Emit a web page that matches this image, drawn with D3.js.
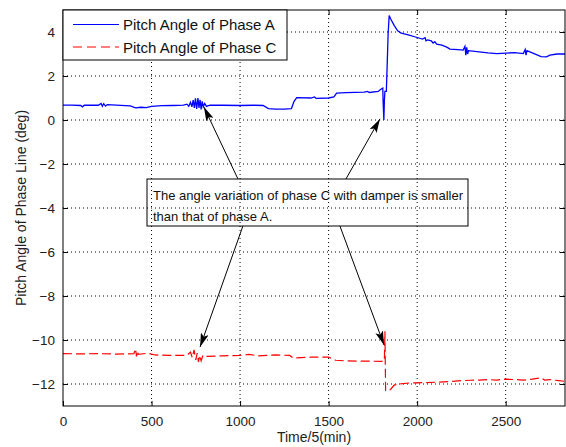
<!DOCTYPE html>
<html lang="en">
<head>
  <meta charset="UTF-8">
  <title>Pitch Angle of Phase Line</title>
  <script src="https://d3js.org/d3.v7.min.js"></script>
  <style>
    body { margin: 0; background: #fff; font-family: "Liberation Sans", Arial, sans-serif; }
    .grid line { stroke: #000; stroke-dasharray: 1,3; stroke-width: 1; }
  </style>
</head>
<body>
  <div id="chart"></div>

  <script>
    // ---- data ----
    const xTicks = [0, 500, 1000, 1500, 2000, 2500];
    const yTicks = [-12, -10, -8, -6, -4, -2, 0, 2, 4];

    const timeA = [0, 50, 100, 110, 120, 200, 215, 222, 230, 240, 250, 300, 380, 410, 440, 470, 500, 560, 620, 680,
      700, 710, 720, 728, 735, 742, 748, 755, 762, 768, 774, 780, 786, 792, 800, 810, 830, 900, 1000, 1080,
      1130, 1160, 1200, 1250, 1290, 1305, 1320, 1400, 1420, 1430, 1500, 1530, 1545, 1600, 1650, 1700, 1720, 1730, 1780, 1795,
      1806, 1808, 1812, 1815, 1818, 1826, 1830, 1836, 1842, 1850, 1870, 1890, 1910, 1950, 2000, 2030, 2045, 2050, 2060, 2080,
      2090, 2100, 2110, 2140, 2170, 2185, 2230, 2260, 2270, 2275, 2280, 2285, 2290, 2350, 2400, 2450, 2500, 2550, 2600, 2610,
      2615, 2620, 2650, 2700, 2730, 2750, 2790, 2835];
    const angleA = [0.68, 0.68, 0.66, 0.6, 0.67, 0.67, 0.75, 0.62, 0.74, 0.63, 0.7, 0.68, 0.64, 0.55, 0.58, 0.56, 0.62, 0.65, 0.66, 0.68,
      0.72, 0.62, 0.8, 0.6, 0.9, 0.55, 0.98, 0.5, 1.0, 0.55, 0.92, 0.48, 0.85, 0.6, 0.75, 0.62, 0.68, 0.67, 0.66, 0.67,
      0.66, 0.52, 0.49, 0.49, 0.52, 0.85, 1.02, 1.0, 1.05, 0.98, 1.0, 1.05, 1.22, 1.24, 1.26, 1.27, 1.3, 1.25, 1.3, 1.4,
      1.45, 0.8, 0.0, 0.9, 1.3, 1.3, 2.3, 3.9, 4.75, 4.6, 4.3, 4.05, 3.95, 3.87, 3.75, 3.68, 3.74, 3.6, 3.64, 3.6,
      3.5, 3.56, 3.45, 3.4, 3.3, 3.22, 3.2, 3.18, 3.35, 2.95, 3.3, 3.0, 3.15, 3.1, 3.05, 3.02, 3.04, 3.06, 3.02, 3.2,
      2.95, 3.15, 3.05, 2.88, 2.87, 2.95, 3.0, 3.0];

    const timeC = [0, 100, 200, 300, 400, 410, 415, 420, 425, 480, 520, 600, 700, 720, 730, 740, 750, 758, 765, 772,
      780, 790, 800, 900, 1000, 1050, 1100, 1200, 1280, 1300, 1400, 1500, 1540, 1600, 1700, 1800, 1815, 1818, 1822, 1840,
      1850, 1870, 1900, 1960, 2000, 2100, 2200, 2250, 2300, 2350, 2400, 2450, 2500, 2550, 2600, 2650, 2700, 2720, 2750, 2800, 2835];
    const angleC = [-10.62, -10.63, -10.62, -10.64, -10.62, -10.4, -10.75, -10.5, -10.65, -10.6, -10.68, -10.7, -10.7, -10.55, -10.8, -10.45, -10.9, -10.6, -11.0, -10.7,
      -10.95, -10.7, -10.75, -10.72, -10.7, -10.65, -10.72, -10.68, -10.7, -10.82, -10.78, -10.78, -10.92, -10.95, -10.96, -10.97, -10.95, -9.6, -12.3, -12.3,
      -12.25, -12.05, -12.0, -11.95, -11.95, -11.92, -11.88, -11.85, -11.83, -11.82, -11.8, -11.82, -11.78, -11.8, -11.82, -11.78, -11.72, -11.82, -11.8, -11.85, -11.88];

    const seriesNames = ["Pitch Angle of Phase A", "Pitch Angle of Phase C"];
    const noteLines = ["The angle variation of phase C with damper is smaller", "than that of phase A."];
    // arrows from the note to the curves: [tailTime, tailAngle, tipTime, tipAngle]
    const arrows = [
      [988, -2.68, 796, 0.59],
      [1598, -2.68, 1790, 0.05],
      [1016, -4.82, 774, -10.32],
      [1564, -4.82, 1813, -10.23]
    ];

    const margin = {top: 10, right: 1, bottom: 41, left: 63},
          width = 566 - margin.left - margin.right,
          height = 447 - margin.top - margin.bottom;

    const root = d3.select("#chart")
                   .append("svg")
                   .attr("width", 566)
                   .attr("height", 447);

    const defs = root.append("defs");
    defs.append("clipPath").attr("id", "plotclip")
        .append("rect").attr("width", width).attr("height", height);
    defs.append("marker")
        .attr("id", "head")
        .attr("viewBox", "0 0 14 8")
        .attr("refX", 14).attr("refY", 4)
        .attr("markerWidth", 14).attr("markerHeight", 8)
        .attr("markerUnits", "userSpaceOnUse")
        .attr("orient", "auto")
        .append("path").attr("d", "M0,0 L14,4 L0,8 L3,4 Z").attr("fill", "#000");

    const svg = root.append("g").attr("transform", `translate(${margin.left},${margin.top})`);

    const x = d3.scaleLinear().domain([0, 2835]).range([0, width]);
    const y = d3.scaleLinear().domain([-13, 5]).range([height, 0]);

    // dotted grid
    const grid = svg.append("g").attr("class", "grid");
    grid.selectAll(".gx").data(xTicks.filter(d => d > 0)).enter().append("line")
        .attr("x1", d => x(d)).attr("x2", d => x(d)).attr("y1", 0).attr("y2", height);
    grid.selectAll(".gy").data(yTicks).enter().append("line")
        .attr("y1", d => y(d)).attr("y2", d => y(d)).attr("x1", 0).attr("x2", width);

    // curves
    const line = d3.line().x(d => x(d[0])).y(d => y(d[1]));
    const plot = svg.append("g").attr("clip-path", "url(#plotclip)");
    plot.append("path")
        .datum(d3.zip(timeC, angleC))
        .attr("fill", "none").attr("stroke", "#ff0000").attr("stroke-width", 1.2)
        .attr("stroke-dasharray", "9,4")
        .attr("d", line);
    plot.append("path")
        .datum(d3.zip(timeA, angleA))
        .attr("fill", "none").attr("stroke", "#0000ff").attr("stroke-width", 1.3)
        .attr("d", line);

    // axes, MATLAB style: ticks inside, box all round
    svg.append("g").attr("transform", `translate(0,${height})`)
       .call(d3.axisBottom(x).tickValues(xTicks).tickFormat(d3.format("d")).tickSizeInner(-5).tickSizeOuter(0).tickPadding(10))
       .call(g => g.select(".domain").remove());
    svg.append("g")
       .call(d3.axisTop(x).tickValues(xTicks).tickSizeInner(-5).tickSizeOuter(0).tickFormat(""))
       .call(g => g.select(".domain").remove());
    svg.append("g")
       .call(d3.axisLeft(y).tickValues(yTicks).tickSizeInner(-5).tickSizeOuter(0).tickPadding(8))
       .call(g => g.select(".domain").remove());
    svg.append("g").attr("transform", `translate(${width},0)`)
       .call(d3.axisRight(y).tickValues(yTicks).tickSizeInner(-5).tickSizeOuter(0).tickFormat(""))
       .call(g => g.select(".domain").remove());
    svg.selectAll(".tick text")
       .attr("font-family", "'Liberation Sans', Arial, sans-serif")
       .attr("font-size", 13.5).attr("fill", "#222");
    svg.selectAll(".tick line").attr("stroke", "#000");

    svg.append("rect")
       .attr("width", width).attr("height", height)
       .attr("fill", "none").attr("stroke", "#000").attr("stroke-width", 1);

    // axis titles
    svg.append("text")
       .attr("x", width / 2).attr("y", height + 36)
       .attr("text-anchor", "middle").attr("font-size", 14).attr("fill", "#222")
       .text("Time/5(min)");
    svg.append("text")
       .attr("transform", `translate(${-37},${height / 2}) rotate(-90)`)
       .attr("text-anchor", "middle").attr("font-size", 14).attr("fill", "#222")
       .text("Pitch Angle of Phase Line (deg)");

    // note and arrows
    const note = svg.append("g").attr("transform", "translate(84,169)");
    const noteText = note.selectAll("text").data(noteLines).enter().append("text")
       .attr("x", 6).attr("y", (d, i) => 21 + i * 21)
       .attr("font-size", 13).attr("fill", "#111")
       .text(d => d);
    const noteW = d3.max(noteText.nodes(), n => n.getComputedTextLength()) + 11;
    note.insert("rect", "text")
       .attr("width", noteW).attr("height", 47)
       .attr("fill", "none").attr("stroke", "#000").attr("stroke-width", 1);

    svg.selectAll(".arrow").data(arrows).enter().append("line")
       .attr("class", "arrow")
       .attr("x1", d => x(d[0])).attr("y1", d => y(d[1]))
       .attr("x2", d => x(d[2])).attr("y2", d => y(d[3]))
       .attr("stroke", "#000").attr("stroke-width", 1)
       .attr("marker-end", "url(#head)");

    // legend
    const legend = svg.append("g");
    legend.append("rect")
       .attr("width", 224).attr("height", 50)
       .attr("fill", "#fff").attr("stroke", "#000").attr("stroke-width", 1);
    const entry = legend.selectAll(".entry").data(seriesNames).enter().append("g")
       .attr("transform", (d, i) => `translate(0,${14.5 + i * 22.5})`);
    entry.append("line")
       .attr("x1", 10).attr("x2", 56)
       .attr("stroke", (d, i) => i === 0 ? "#0000ff" : "#ff0000")
       .attr("stroke-width", 1.2)
       .attr("stroke-dasharray", (d, i) => i === 0 ? null : "9,5");
    entry.append("text")
       .attr("x", 60).attr("y", 5.5)
       .attr("font-size", 15).attr("fill", "#111")
       .text(d => d);
  </script>
</body>
</html>
